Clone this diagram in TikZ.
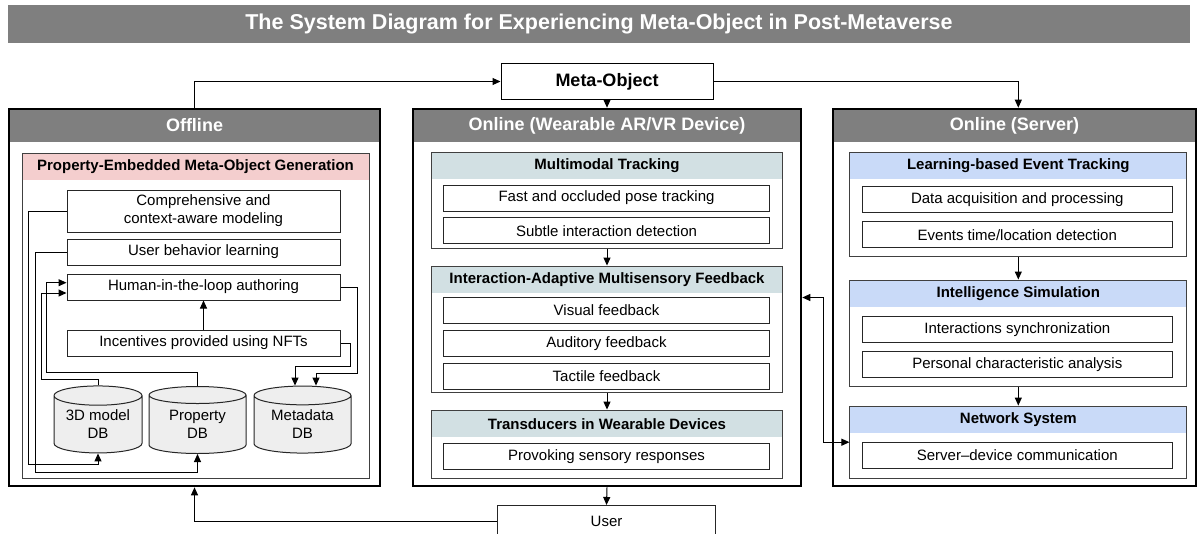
\documentclass[tikz,border=0pt]{standalone}
\usepackage{fontspec}
\setmainfont{Liberation Sans}
\definecolor{headgray}{RGB}{127,127,127}
\definecolor{mypink}{RGB}{244,206,206}
\definecolor{myteal}{RGB}{210,224,227}
\definecolor{myblue}{RGB}{201,218,248}
\definecolor{dbgray}{RGB}{238,238,238}
\usetikzlibrary{positioning,shapes.geometric,arrows.meta}

\begin{document}
\begin{tikzpicture}[x=1pt,y=-1pt,
  every node/.style={inner sep=0pt,font=\fontsize{15}{18}\selectfont},
  titlebar/.style={fill=headgray,text=white,minimum width=1182,minimum height=38,
    font=\fontsize{21.5}{26}\selectfont\bfseries},
  mainbox/.style={draw,line width=1pt,fill=white,minimum width=212,minimum height=36,
    font=\fontsize{18}{22}\selectfont\bfseries},
  panel/.style={draw,line width=2.6pt},
  panelhead/.style={fill=headgray,text=white,minimum height=33,
    font=\fontsize{18}{22}\selectfont\bfseries},
  section/.style={draw=black!75,line width=1pt},
  sechead/.style={minimum height=26.5,font=\fontsize{15}{18}\selectfont\bfseries},
  item/.style={draw=black!85,line width=1pt,minimum height=26},
  db/.style={cylinder,shape border rotate=90,aspect=0.3,draw=black!85,line width=1pt,
    fill=dbgray,align=center},
  arr/.style={line width=1pt,-{Triangle[length=8pt,width=7pt]}},
  dblarr/.style={line width=1pt,{Triangle[length=8pt,width=7pt]}-{Triangle[length=8pt,width=7pt]}}
]
\useasboundingbox (0,0) rectangle (1198,533);
\clip (0,0) rectangle (1198,533);

% Title
\node[titlebar] (title) at (599,24) {The System Diagram for Experiencing Meta-Object in Post-Metaverse};
\node[mainbox] (meta) at (607,81.5) {Meta-Object};

% Offline
\node[panelhead,minimum width=371] (offhead) at (194.5,125.5) {Offline};
\node[panel,minimum width=371,minimum height=377] (offline) at (194.5,297.5) {};
\node[sechead,fill=mypink,minimum width=347,minimum height=27] (pemhead) at (195.5,166.5) {Property-Embedded Meta-Object Generation};
\node[section,minimum width=347,minimum height=325] (pemog) at (195.5,315.5) {};
\node[item,minimum width=273,minimum height=42,align=center] (comp) at (203.5,211) {Comprehensive and\\context-aware modeling};
\node[item,minimum width=273] (ubl) at (203.5,252) {User behavior learning};
\node[item,minimum width=273] (hitl) at (203.5,287) {Human-in-the-loop authoring};
\node[item,minimum width=273] (inc) at (203.5,343) {Incentives provided using NFTs};
\node[db,minimum width=88,minimum height=67] (db3d) at (98,424.5) {3D model\\DB};
\node[db,minimum width=97,minimum height=67] (dbprop) at (197.5,424.5) {Property\\DB};
\node[db,minimum width=97,minimum height=67] (dbmeta) at (302.5,424.5) {Metadata\\DB};

% Online (device)
\node[panelhead,minimum width=388] (onhead) at (607,125.5) {Online (Wearable AR/VR Device)};
\node[panel,minimum width=388,minimum height=377] (online) at (607,297.5) {};
\node[sechead,fill=myteal,minimum width=351] (mmthead) at (607,166) {Multimodal Tracking};
\node[section,minimum width=351,minimum height=96] (mmt) at (607,200.5) {};
\node[item,minimum width=326] (fast) at (606.5,198) {Fast and occluded pose tracking};
\node[item,minimum width=326,below=5.7pt of fast] (subtle) {Subtle interaction detection};
\node[sechead,fill=myteal,minimum width=351] (iamfhead) at (607,279.3) {Interaction-Adaptive Multisensory Feedback};
\node[section,minimum width=351,minimum height=126.7] (iamf) at (607,329.4) {};
\node[item,minimum width=326] (visual) at (606.5,310.5) {Visual feedback};
\node[item,minimum width=326,below=6pt of visual] (audit) {Auditory feedback};
\node[item,minimum width=326,below=6pt of audit] (tactile) {Tactile feedback};
\node[sechead,fill=myteal,minimum width=351,minimum height=27.3] (tiwdhead) at (607,423.7) {Transducers in Wearable Devices};
\node[section,minimum width=351,minimum height=68.3] (tiwd) at (607,444.2) {};
\node[item,minimum width=326] (provoke) at (606.5,456.3) {Provoking sensory responses};

% Online (server)
\node[panelhead,minimum width=363] (srvhead) at (1014.5,125.5) {Online (Server)};
\node[panel,minimum width=363,minimum height=377] (server) at (1014.5,297.5) {};
\node[sechead,fill=myblue,minimum width=336.7] (lbethead) at (1018.3,165.7) {Learning-based Event Tracking};
\node[section,minimum width=336.7,minimum height=104.4] (lbet) at (1018.3,204.5) {};
\node[item,minimum width=310] (dataacq) at (1017.3,199.7) {Data acquisition and processing};
\node[item,minimum width=310,below=8pt of dataacq] (events) {Events time/location detection};
\node[sechead,fill=myblue,minimum width=336.7] (intsimhead) at (1018.3,293.4) {Intelligence Simulation};
\node[section,minimum width=336.7,minimum height=106] (intsim) at (1018.3,333) {};
\node[item,minimum width=310] (interact) at (1017.3,329.2) {Interactions synchronization};
\node[item,minimum width=310,below=8.7pt of interact] (personal) {Personal characteristic analysis};
\node[sechead,fill=myblue,minimum width=336.7] (nethead) at (1018.3,419.4) {Network System};
\node[section,minimum width=336.7,minimum height=72.3] (net) at (1018.3,442.2) {};
\node[item,minimum width=310] (srvdev) at (1017.3,455.3) {Server--device communication};

% User
\node[item,minimum width=218,minimum height=31] (user) at (606.5,521) {User};

% Edges
\draw[arr] (offline.north) |- (meta.west);
\draw[arr] (meta.south) -- (online.north);
\draw[arr] (meta.east) -| (server.north -| lbet.north);
\draw[arr] (online.south) -- (user.north);
\draw[arr] (user.west) -| (offline.south);
\draw[dblarr] (online.east) -| (823,442.2) -- (net.west);
\draw[arr] (mmt.south) -- (iamf.north);
\draw[arr] (iamf.south) -- (tiwd.north);
\draw[arr] (lbet.south) -- (intsim.north);
\draw[arr] (intsim.south) -- (net.north);
\draw[arr] (inc.north) -- (hitl.south);
\draw[arr] (db3d.north) |- (41,379) |- ([yshift=-6pt]hitl.west);
\draw[arr] (dbprop.north) |- (46,372) |- ([yshift=4.3pt]hitl.west);
\draw[arr] (comp.west) -| (28,464) -| (db3d.south);
\draw[arr] (ubl.west) -| (35,472) -| (dbprop.south);
\draw[arr] (hitl.east) -| (357,373) -| ([xshift=13.5pt]dbmeta.north);
\draw[arr] (inc.east) -| (350,366) -| ([xshift=-7.5pt]dbmeta.north);
\end{tikzpicture}
\end{document}
